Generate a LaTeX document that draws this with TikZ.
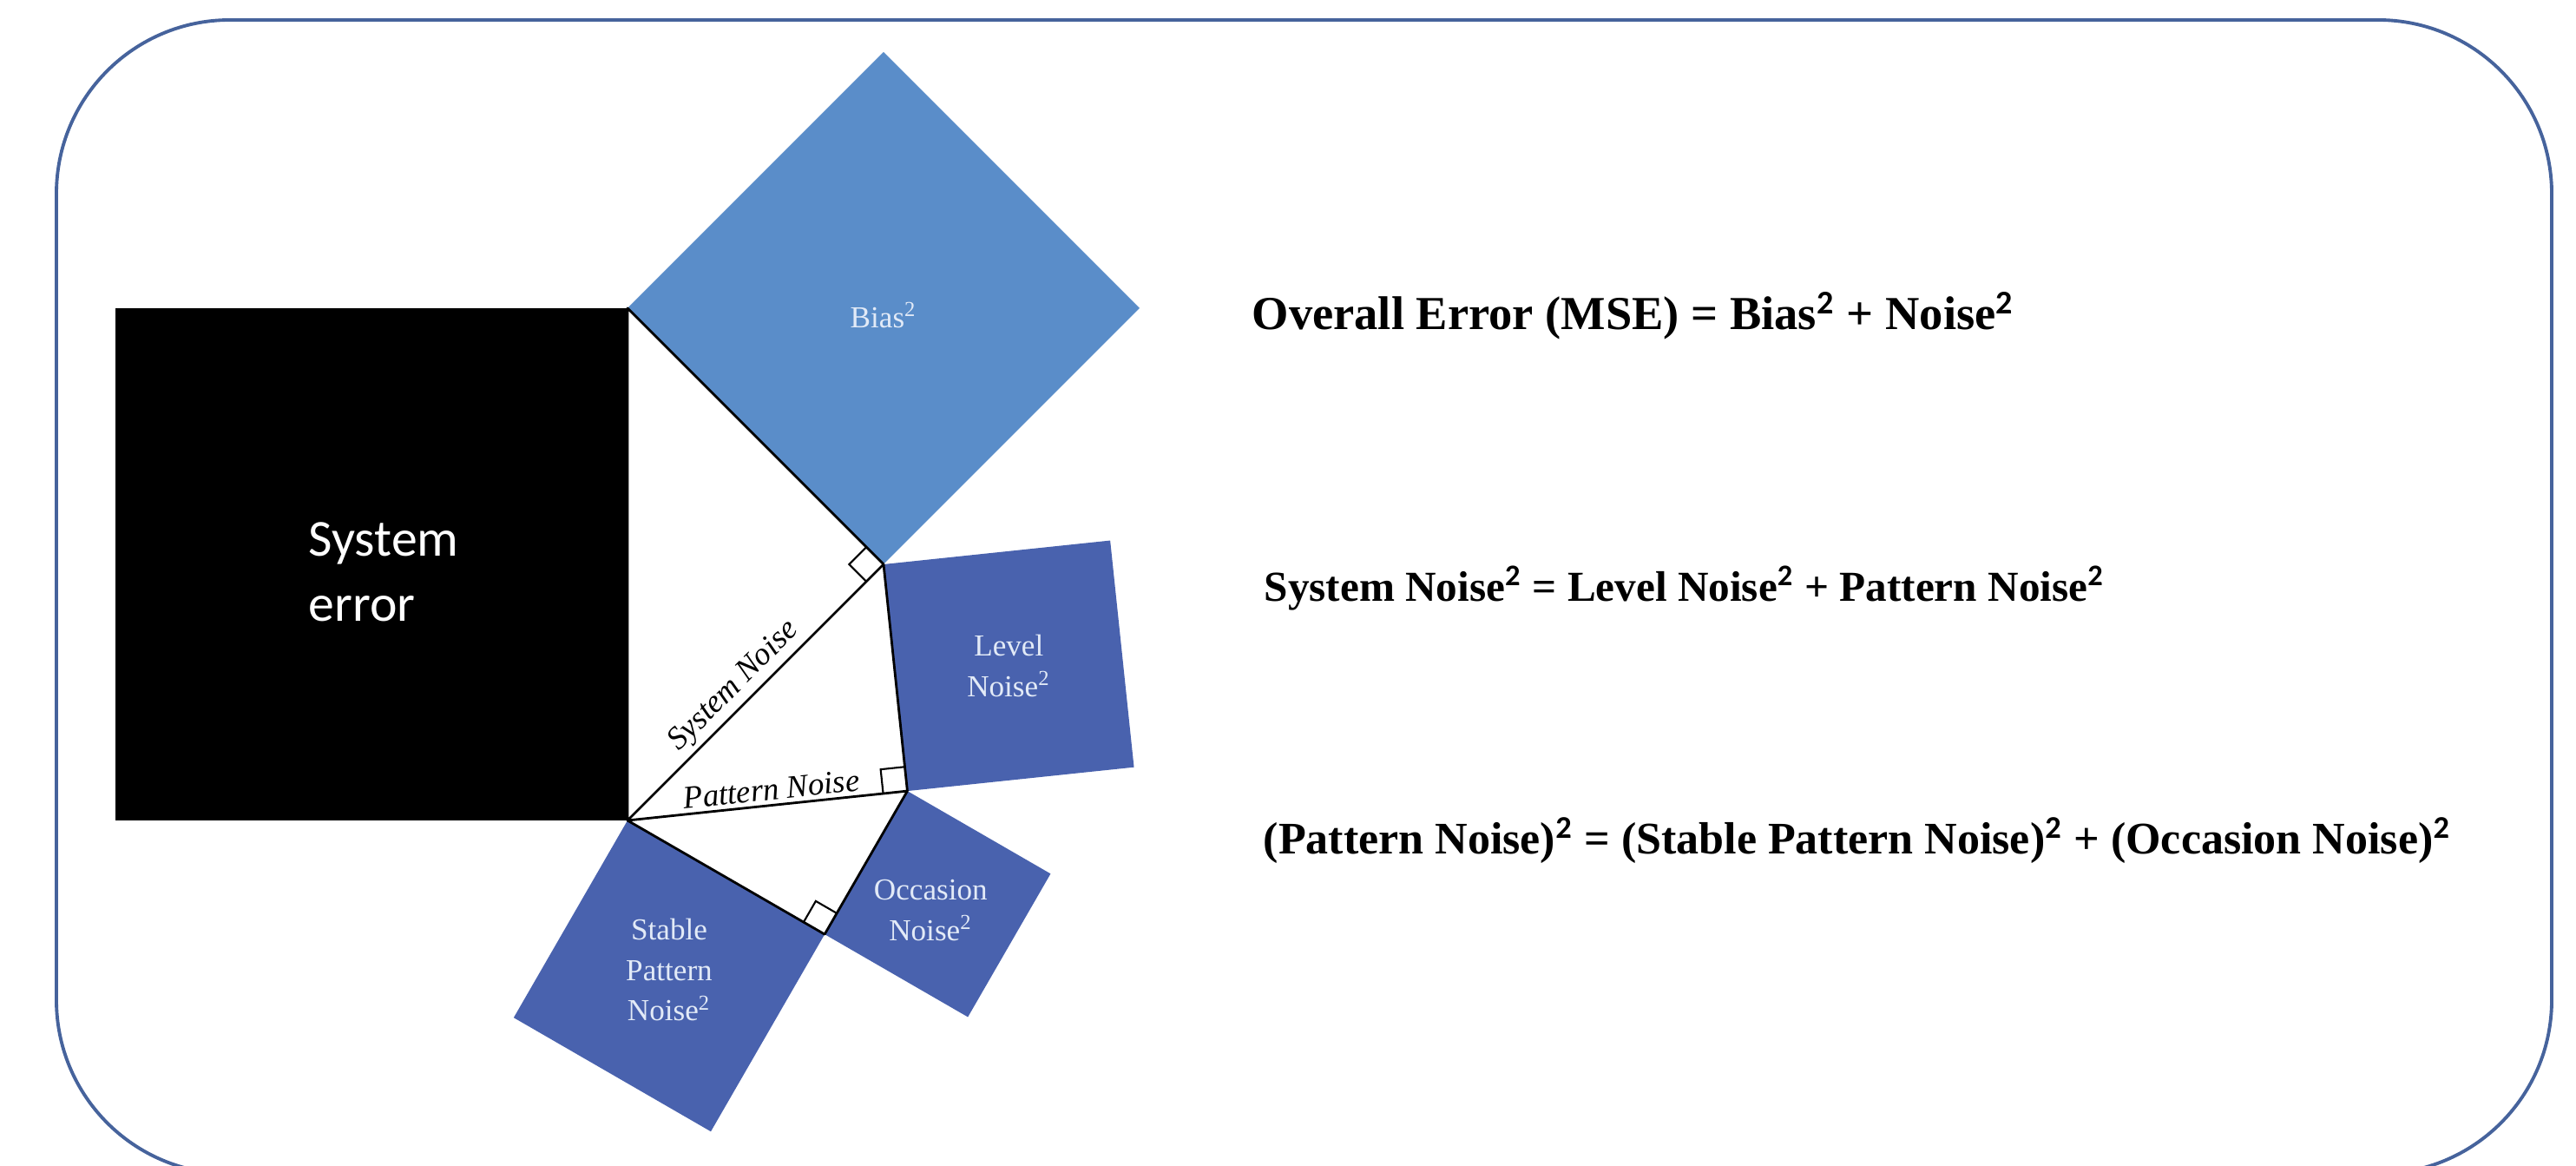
\documentclass[tikz,border=0pt]{standalone}
\usepackage{fontspec}
\setmainfont{Liberation Serif}
\newfontfamily\calibri{Carlito}
\usetikzlibrary{calc}

\definecolor{biasblue}{HTML}{5A8DC9}
\definecolor{noiseblue}{HTML}{4962AE}
\definecolor{framecol}{HTML}{46639C}
\definecolor{labelwhite}{HTML}{E2EAF7}

\newcommand{\pwr}{\textsuperscript{2}}
\newcommand{\eqpwr}{\textsuperscript{\calibri\bfseries 2}}

\tikzset{
    sqlabel/.style={text=labelwhite, align=center, font=\fontsize{10}{13.3}\selectfont},
    sidelabel/.style={sloped, above, inner sep=1.5pt, font=\fontsize{10.5}{12}\selectfont\itshape},
    formula/.style={anchor=base west, inner sep=0pt, font=\bfseries},
    tri/.style={draw=black, line width=0.8pt, line join=round},
    rmark/.style={draw=black, line width=0.6pt}
}

\begin{document}
\begin{tikzpicture}
    \useasboundingbox (0,0) rectangle (29.68,13.43);

    % frame
    \draw[framecol, line width=1.1pt, rounded corners=2cm] (0.65,-0.09) rectangle (29.40,13.20);

    % corners of the three right triangles
    \coordinate (A) at (7.23,3.98);
    \coordinate (B) at (7.23,9.88);
    \coordinate (C) at ($(A)!0.7071!-45:(B)$);
    \coordinate (D) at ($(A)!0.7771!-39:(C)$);
    \coordinate (E) at ($(A)!0.8090!-36:(D)$);

    % one square on each outer side
    \foreach \p/\q/\col/\n in {A/B/black/err, B/C/biasblue/bias, C/D/noiseblue/level,
                               D/E/noiseblue/occ, E/A/noiseblue/stable}{
        \coordinate (\n-q) at ($(\q)!1!-90:(\p)$);
        \coordinate (\n-p) at ($(\p)!1!90:(\q)$);
        \fill[\col] (\p) -- (\q) -- (\n-q) -- (\n-p) -- cycle;
        \coordinate (\n) at ($(\p)!0.5!(\n-q)$);
    }

    % triangle sides
    \draw[tri] (A) -- (B) -- (C) -- cycle;
    \draw[tri] (C) -- (D) -- (A);
    \draw[tri] (D) -- (E) -- (A);

    % right angles
    \foreach \v/\a/\b in {C/A/B, D/C/A, E/A/D}{
        \coordinate (m1) at ($(\v)!0.28cm!(\a)$);
        \coordinate (m2) at ($(\v)!0.28cm!(\b)$);
        \draw[rmark] (m1) -- ($(m1)+(m2)-(\v)$) -- (m2);
    }

    % labels in the squares
    \node[text=white, anchor=north west, inner sep=0pt, align=left,
          font=\calibri\fontsize{17}{21.3}\selectfont] (errtxt) at (3.55,7.42) {System\\error};
    \node[sqlabel, yshift=-0.08cm] (biastxt) at (bias) {Bias\pwr};
    \node[sqlabel] (leveltxt) at (level) {Level\\Noise\pwr};
    \node[sqlabel, xshift=-0.08cm, yshift=-0.07cm] (occtxt) at (occ) {Occasion\\Noise\pwr};
    \node[sqlabel, yshift=0.07cm] (stabletxt) at (stable) {Stable\\Pattern\\Noise\pwr};

    % labels on the sides
    \path (A) -- (C) node[sidelabel, pos=0.47] (sysnoise) {System Noise};
    \path (A) -- (D) node[sidelabel, pos=0.52] (patnoise) {Pattern Noise};

    % formulas
    \node[formula, font=\fontsize{15.5}{18}\selectfont\bfseries] (mse) at (14.42,9.63)
        {Overall Error (MSE) = Bias\eqpwr{} + Noise\eqpwr};
    \node[formula, font=\fontsize{14}{17}\selectfont\bfseries] (sysfml) at (14.56,6.50)
        {System Noise\eqpwr{} = Level Noise\eqpwr{} + Pattern Noise\eqpwr};
    \node[formula, font=\fontsize{14.8}{17}\selectfont\bfseries] (patfml) at (14.55,3.59)
        {(Pattern Noise)\eqpwr{} = (Stable Pattern Noise)\eqpwr{} + (Occasion Noise)\eqpwr};
\end{tikzpicture}
\end{document}
